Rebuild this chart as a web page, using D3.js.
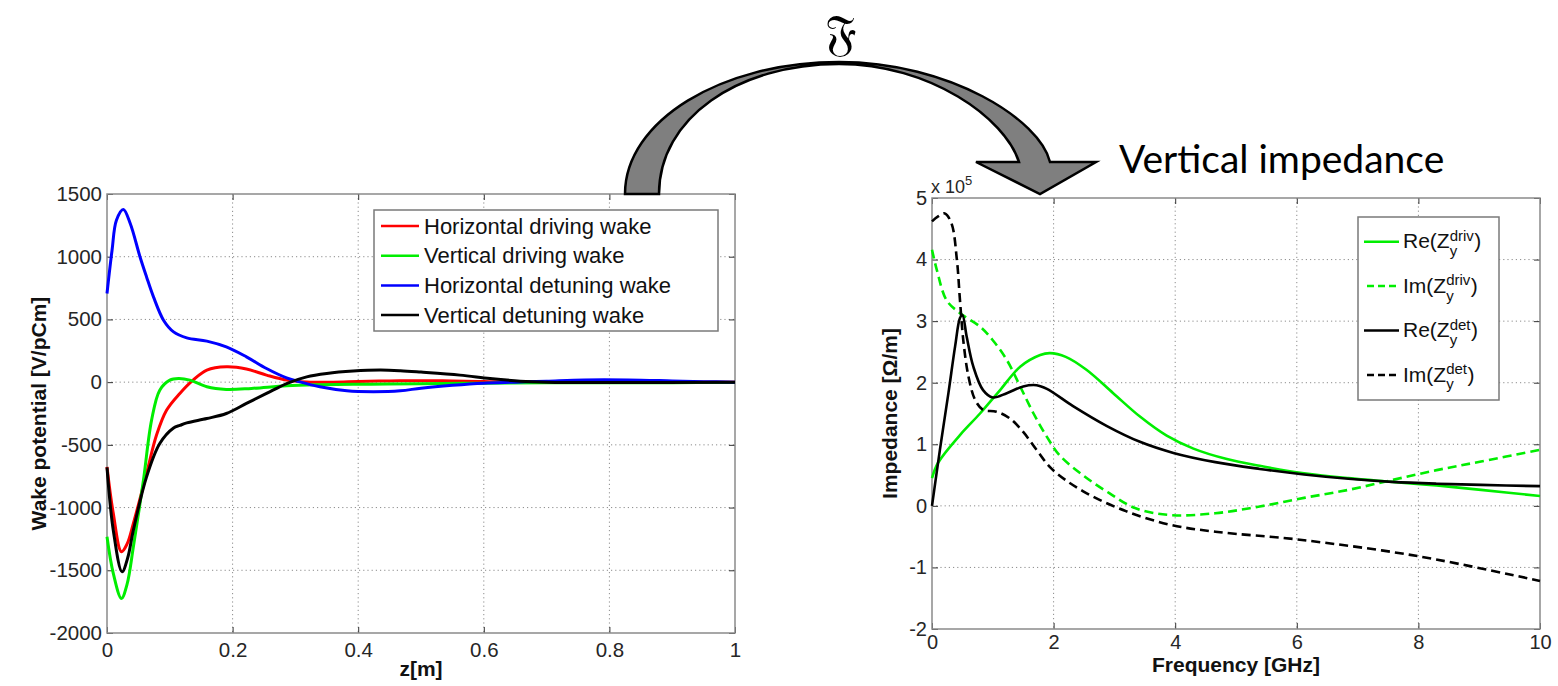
<!DOCTYPE html>
<html><head><meta charset="utf-8">
<script src="https://cdn.jsdelivr.net/npm/d3@7"></script>
<style>
html,body{margin:0;padding:0;background:#fff;}
svg{display:block;}
</style></head><body>
<svg id="c" width="1558" height="686"></svg>
<script>
// ---------------- DATA ----------------
// Left: wake potential [V/pCm] vs z [m]
const wakeXTicks = [0, 0.2, 0.4, 0.6, 0.8, 1];
const wakeYTicks = [-2000, -1500, -1000, -500, 0, 500, 1000, 1500];
const wakeNames = ["Horizontal driving wake", "Vertical driving wake", "Horizontal detuning wake", "Vertical detuning wake"];
const wakeColors = ["#ff0000", "#00ee00", "#0000ff", "#000000"];

const zHorDriv = [0, 0.01, 0.023, 0.032, 0.042, 0.063, 0.079, 0.095, 0.116, 0.137, 0.159, 0.19, 0.222, 0.254, 0.286, 0.318, 0.36, 0.4, 0.45, 0.5, 0.55, 0.6, 0.65, 0.7, 0.8, 1.0];
const wHorDriv = [-675, -1046, -1352, -1290, -1126, -728, -420, -223, -90, 16, 96, 122, 105, 56, 16, 2, 0, 5, 10, 12, 10, 5, 0, -2, 0, 0];

const zVerDriv = [0, 0.01, 0.023, 0.032, 0.042, 0.058, 0.071, 0.084, 0.1, 0.114, 0.132, 0.159, 0.19, 0.23, 0.286, 0.339, 0.42, 0.5, 0.6, 0.7, 0.8, 0.9, 1.0];
const wVerDriv = [-1233, -1525, -1724, -1610, -1313, -781, -303, -64, 16, 29, 16, -37, -58, -50, -29, -21, -16, -12, -8, -5, -5, -4, -3];

const zHorDet = [0, 0.008, 0.015, 0.026, 0.037, 0.0525, 0.063, 0.074, 0.09, 0.106, 0.127, 0.159, 0.19, 0.222, 0.254, 0.286, 0.307, 0.339, 0.382, 0.424, 0.467, 0.5, 0.55, 0.6, 0.65, 0.7, 0.76, 0.83, 0.9, 0.95, 1.0];
const wHorDet = [707, 1050, 1290, 1376, 1265, 1000, 839, 680, 494, 401, 353, 327, 281, 202, 109, 34, 2, -37, -69, -76, -69, -48, -25, -8, 0, 8, 18, 18, 10, 4, 0];

const zVerDet = [0, 0.01, 0.024, 0.033, 0.042, 0.063, 0.084, 0.106, 0.116, 0.127, 0.159, 0.19, 0.222, 0.254, 0.286, 0.318, 0.35, 0.392, 0.435, 0.467, 0.5, 0.562, 0.61, 0.658, 0.7, 0.8, 1.0];
const wVerDet = [-680, -1180, -1512, -1400, -1180, -755, -489, -365, -345, -325, -290, -250, -170, -90, -11, 42, 69, 88, 96, 91, 80, 56, 29, 8, 0, -3, 0];

// Right: impedance [x1e5 Ohm/m] vs frequency [GHz]
const freqTicks = [0, 2, 4, 6, 8, 10];
const impTicks = [-2, -1, 0, 1, 2, 3, 4, 5];

const fReDriv = [0, 0.1, 0.46, 0.79, 1.12, 1.45, 1.78, 1.94, 2.2, 2.54, 2.98, 3.42, 3.86, 4.3, 4.85, 5.39, 6.12, 6.85, 7.57, 8.3, 9.03, 10];
const zReDriv = [0.45, 0.7, 1.15, 1.5, 1.88, 2.26, 2.45, 2.48, 2.42, 2.21, 1.83, 1.45, 1.14, 0.93, 0.76, 0.65, 0.53, 0.45, 0.39, 0.33, 0.26, 0.16];

const fImDriv = [0, 0.08, 0.24, 0.46, 0.79, 1.0, 1.23, 1.45, 1.67, 1.89, 2.1, 2.48, 2.91, 3.35, 3.93, 4.66, 5.39, 6.12, 6.85, 7.57, 8.3, 9.03, 10];
const zImDriv = [4.16, 3.83, 3.34, 3.13, 2.91, 2.69, 2.37, 1.94, 1.5, 1.12, 0.82, 0.5, 0.21, -0.04, -0.15, -0.12, -0.01, 0.13, 0.26, 0.42, 0.58, 0.72, 0.91];

const fReDet = [0, 0.13, 0.27, 0.38, 0.46, 0.5, 0.57, 0.68, 0.84, 1.0, 1.23, 1.5, 1.72, 1.89, 2.32, 2.87, 3.42, 3.97, 4.66, 5.39, 6.12, 6.85, 7.57, 8.3, 9.03, 10];
const zReDet = [0, 0.91, 1.83, 2.59, 3.05, 3.1, 2.75, 2.26, 1.88, 1.76, 1.83, 1.94, 1.96, 1.9, 1.62, 1.3, 1.04, 0.86, 0.71, 0.6, 0.51, 0.44, 0.39, 0.36, 0.34, 0.32];

const fImDet = [0, 0.1, 0.21, 0.32, 0.41, 0.46, 0.52, 0.6, 0.71, 0.84, 1.06, 1.28, 1.5, 1.72, 1.97, 2.48, 3.2, 3.93, 4.66, 6.05, 8.01, 10];
const zImDet = [4.62, 4.7, 4.75, 4.59, 3.99, 3.34, 2.64, 2.1, 1.72, 1.56, 1.53, 1.42, 1.2, 0.91, 0.6, 0.24, -0.09, -0.31, -0.42, -0.55, -0.82, -1.22];

const impLegend = [
  {main: "Re(Z", sup: "driv"},
  {main: "Im(Z", sup: "driv"},
  {main: "Re(Z", sup: "det"},
  {main: "Im(Z", sup: "det"}
];
const impColors = ["#00ee00", "#00ee00", "#000000", "#000000"];
const impDashed = [false, true, false, true];

// ---------------- DRAWING ----------------
const svg = d3.select("#c");
const FONT = "'Liberation Sans', Arial, Helvetica, sans-serif";

const xL = d3.scaleLinear().domain([0, 1]).range([107, 735]);
const yL = d3.scaleLinear().domain([-2000, 1500]).range([633, 194]);
const xR = d3.scaleLinear().domain([0, 10]).range([932, 1540]);
const yR = d3.scaleLinear().domain([-2, 5]).range([629, 198]);

function frame(x, y, xt, yt, fs, padX, padY) {
  const g = svg.append("g");
  const [xa, xb] = x.range();
  const [yb, ya] = y.range();
  g.append("g").selectAll("line").data(xt.filter(d => x(d) > xa + 1 && x(d) < xb - 1)).join("line")
    .attr("x1", d => x(d)).attr("x2", d => x(d)).attr("y1", ya).attr("y2", yb)
    .attr("stroke", "#8c8c8c").attr("stroke-width", 1).attr("stroke-dasharray", "1.2,3");
  g.append("g").selectAll("line").data(yt.filter(d => y(d) < yb - 1 && y(d) > ya + 1)).join("line")
    .attr("y1", d => y(d)).attr("y2", d => y(d)).attr("x1", xa).attr("x2", xb)
    .attr("stroke", "#8c8c8c").attr("stroke-width", 1).attr("stroke-dasharray", "1.2,3");
  const fmt = d => String(d);
  const style = (sel) => {
    sel.select(".domain").remove();
    sel.selectAll(".tick line").attr("stroke", "#333").attr("stroke-width", 1);
    sel.selectAll(".tick text").attr("fill", "#262626");
    sel.attr("font-size", fs).attr("font-family", FONT);
  };
  g.append("g").attr("transform", `translate(0,${yb})`)
    .call(d3.axisBottom(x).tickValues(xt).tickSizeInner(-6).tickSizeOuter(0).tickPadding(padX).tickFormat(fmt)).call(style);
  g.append("g").attr("transform", `translate(0,${ya})`)
    .call(d3.axisTop(x).tickValues(xt).tickSizeInner(-6).tickSizeOuter(0).tickFormat("")).call(style);
  g.append("g").attr("transform", `translate(${xa},0)`)
    .call(d3.axisLeft(y).tickValues(yt).tickSizeInner(-6).tickSizeOuter(0).tickPadding(padY).tickFormat(fmt)).call(style);
  g.append("g").attr("transform", `translate(${xb},0)`)
    .call(d3.axisRight(y).tickValues(yt).tickSizeInner(-6).tickSizeOuter(0).tickFormat("")).call(style);
  g.append("rect").attr("x", xa).attr("y", ya).attr("width", xb - xa).attr("height", yb - ya)
    .attr("fill", "none").attr("stroke", "#8a8a8a").attr("stroke-width", 1.5);
  return g;
}

// ---- Left plot ----
frame(xL, yL, wakeXTicks, wakeYTicks, 20.5, 9, 5);
const wakeSeries = [[zHorDriv, wHorDriv], [zVerDriv, wVerDriv], [zHorDet, wHorDet], [zVerDet, wVerDet]];
const lineL = d3.line().x(d => xL(d[0])).y(d => yL(d[1])).curve(d3.curveCatmullRom.alpha(0.5));
svg.append("g").selectAll("path").data([0, 1, 2, 3]).join("path")
  .attr("d", i => lineL(d3.zip(wakeSeries[i][0], wakeSeries[i][1])))
  .attr("fill", "none").attr("stroke", i => wakeColors[i]).attr("stroke-width", 3)
  .attr("stroke-linejoin", "round");

// left legend
const lg = svg.append("g");
lg.append("rect").attr("x", 374).attr("y", 210).attr("width", 344).attr("height", 121)
  .attr("fill", "#fff").attr("stroke", "#7a7a7a").attr("stroke-width", 1.5);
wakeNames.forEach((n, i) => {
  const cy = 226 + i * 29.7;
  lg.append("line").attr("x1", 381).attr("x2", 419).attr("y1", cy).attr("y2", cy)
    .attr("stroke", wakeColors[i]).attr("stroke-width", 2.5);
  lg.append("text").attr("x", 424).attr("y", cy + 7.5).text(n)
    .attr("font-family", FONT).attr("font-size", 22).attr("fill", "#111");
});

// left labels
svg.append("text").attr("transform", "translate(46,413.5) rotate(-90)").attr("text-anchor", "middle")
  .attr("font-family", FONT).attr("font-weight", "bold").attr("font-size", 21).attr("fill", "#111")
  .text("Wake potential [V/pCm]");
svg.append("text").attr("x", 421).attr("y", 676).attr("text-anchor", "middle")
  .attr("font-family", FONT).attr("font-weight", "bold").attr("font-size", 21).attr("fill", "#111")
  .text("z[m]");

// ---- Right plot ----
frame(xR, yR, freqTicks, impTicks, 20, 6, 5);
const impSeries = [[fReDriv, zReDriv], [fImDriv, zImDriv], [fReDet, zReDet], [fImDet, zImDet]];
const lineR = d3.line().x(d => xR(d[0])).y(d => yR(d[1])).curve(d3.curveCatmullRom.alpha(0.5));
svg.append("g").selectAll("path").data([0, 1, 2, 3]).join("path")
  .attr("d", i => lineR(d3.zip(impSeries[i][0], impSeries[i][1])))
  .attr("fill", "none").attr("stroke", i => impColors[i]).attr("stroke-width", 2.6)
  .attr("stroke-dasharray", i => impDashed[i] ? "9,5" : null);

// exponent label
const ex = svg.append("text").attr("x", 931).attr("y", 193).attr("font-family", FONT).attr("fill", "#262626");
ex.append("tspan").attr("font-size", 18).text("x 10");
ex.append("tspan").attr("font-size", 13).attr("dy", -8).text("5");

// right legend
const rg = svg.append("g");
rg.append("rect").attr("x", 1358).attr("y", 217).attr("width", 141).attr("height", 183)
  .attr("fill", "#fff").attr("stroke", "#7a7a7a").attr("stroke-width", 1.5);
impLegend.forEach((e, i) => {
  const cy = 241.7 + i * 44.4;
  rg.append("line").attr("x1", impDashed[i] ? 1367 : 1364).attr("x2", 1399).attr("y1", cy).attr("y2", cy)
    .attr("stroke", impColors[i]).attr("stroke-width", 2.5)
    .attr("stroke-dasharray", impDashed[i] ? "7,4" : null);
  const x0 = 1403;
  const t = rg.append("text").attr("x", x0).attr("y", cy + 6.6).attr("font-family", FONT)
    .attr("font-size", 21).attr("fill", "#111").text(e.main);
  const w = t.node().getComputedTextLength();
  const sp = rg.append("text").attr("x", x0 + w).attr("y", cy - 1).attr("font-family", FONT)
    .attr("font-size", 15).attr("fill", "#111").text(e.sup);
  rg.append("text").attr("x", x0 + w).attr("y", cy + 14.5).attr("font-family", FONT)
    .attr("font-size", 15).attr("fill", "#111").text("y");
  const ws = sp.node().getComputedTextLength();
  rg.append("text").attr("x", x0 + w + ws + 0.5).attr("y", cy + 6.6).attr("font-family", FONT)
    .attr("font-size", 21).attr("fill", "#111").text(")");
});

// right labels
svg.append("text").attr("transform", "translate(897,413.5) rotate(-90)").attr("text-anchor", "middle")
  .attr("font-family", FONT).attr("font-weight", "bold").attr("font-size", 21).attr("fill", "#111")
  .text("Impedance [\u03A9/m]");
svg.append("text").attr("x", 1236).attr("y", 672).attr("text-anchor", "middle")
  .attr("font-family", FONT).attr("font-weight", "bold").attr("font-size", 21).attr("fill", "#111")
  .text("Frequency [GHz]");

// ---- Fourier transform arrow & annotations ----
svg.append("path")
  .attr("d", "M625,194 C625,121 721,62 839,62 C950,62 1040,120 1050,162 L1096,162 L1040,194 L976,162 L1019,162 C1005,118 930,64 839,64 C738,64 659,118 659,194 Z")
  .attr("fill", "#7f7f7f").attr("stroke", "#000").attr("stroke-width", 2.5).attr("stroke-linejoin", "miter");

svg.append("text").attr("x", 841).attr("y", 50).attr("text-anchor", "middle")
  .attr("font-family", "'DejaVu Serif','DejaVu Sans','Noto Sans',serif").attr("font-size", 50).attr("fill", "#000")
  .text("\u{1D509}");

svg.append("text").attr("x", 1119).attr("y", 173)
  .attr("font-family", "Lato, 'Open Sans', sans-serif").attr("font-size", 39).attr("fill", "#000")
  .text("Vertical impedance");
</script>
</body></html>
